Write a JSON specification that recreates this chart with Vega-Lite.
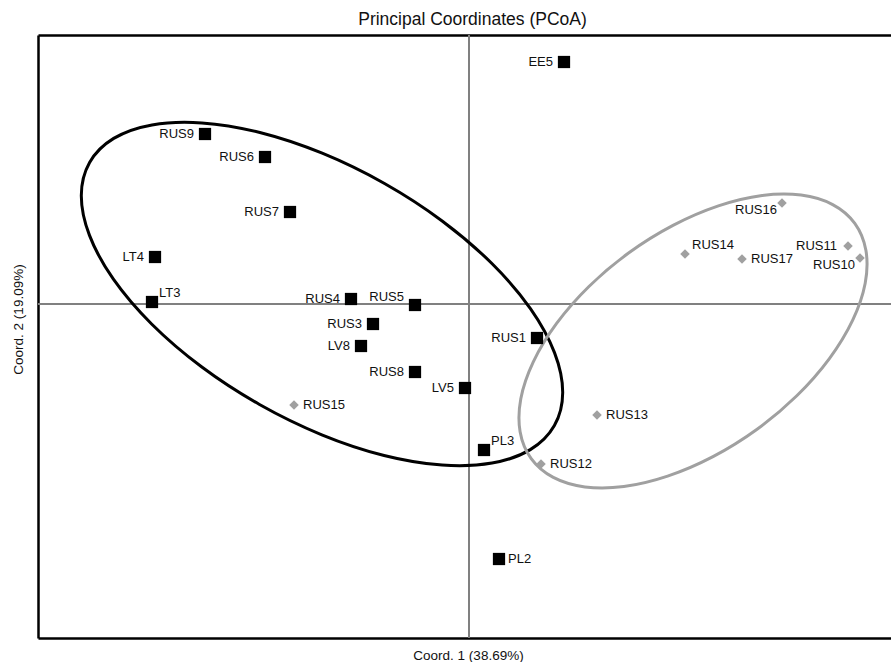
{
  "$schema": "https://vega.github.io/schema/vega-lite/v6.json",
  "width": 853,
  "height": 603,
  "padding": {"left": 11, "top": 10, "right": 0, "bottom": 0},
  "background": "white",
  "view": {"stroke": null},
  "config": {"font": "Liberation Sans"},
  "title": {"text": "Principal Coordinates (PCoA)", "font": "Liberation Sans", "fontSize": 17.5, "fontWeight": "normal", "color": "#111", "anchor": "middle", "offset": 6, "dx": 8},
  "datasets": {
    "pts": [
      {"name": "EE5", "group": "black", "x": 0.95, "y": 2.42},
      {"name": "RUS9", "group": "black", "x": -2.64, "y": 1.70},
      {"name": "RUS6", "group": "black", "x": -2.04, "y": 1.47},
      {"name": "RUS7", "group": "black", "x": -1.79, "y": 0.92},
      {"name": "LT4", "group": "black", "x": -3.14, "y": 0.47},
      {"name": "LT3", "group": "black", "x": -3.17, "y": 0.02},
      {"name": "RUS4", "group": "black", "x": -1.18, "y": 0.05},
      {"name": "RUS5", "group": "black", "x": -0.54, "y": -0.01},
      {"name": "RUS3", "group": "black", "x": -0.96, "y": -0.20},
      {"name": "LV8", "group": "black", "x": -1.08, "y": -0.42},
      {"name": "RUS1", "group": "black", "x": 0.68, "y": -0.34},
      {"name": "RUS8", "group": "black", "x": -0.54, "y": -0.68},
      {"name": "LV5", "group": "black", "x": -0.04, "y": -0.84},
      {"name": "PL3", "group": "black", "x": 0.15, "y": -1.46},
      {"name": "PL2", "group": "black", "x": 0.30, "y": -2.55},
      {"name": "RUS15", "group": "gray", "x": -1.75, "y": -1.01},
      {"name": "RUS16", "group": "gray", "x": 3.13, "y": 1.01},
      {"name": "RUS14", "group": "gray", "x": 2.16, "y": 0.50},
      {"name": "RUS17", "group": "gray", "x": 2.73, "y": 0.45},
      {"name": "RUS11", "group": "gray", "x": 3.79, "y": 0.58},
      {"name": "RUS10", "group": "gray", "x": 3.91, "y": 0.46},
      {"name": "RUS13", "group": "gray", "x": 1.28, "y": -1.11},
      {"name": "RUS12", "group": "gray", "x": 0.72, "y": -1.60}
    ],
    "ell": [
      {"group": "black", "t": 0, "x": 0.854, "y": -1.215},
      {"group": "black", "t": 15, "x": 0.937, "y": -0.884},
      {"group": "black", "t": 30, "x": 0.855, "y": -0.486},
      {"group": "black", "t": 45, "x": 0.616, "y": -0.048},
      {"group": "black", "t": 60, "x": 0.234, "y": 0.400},
      {"group": "black", "t": 75, "x": -0.265, "y": 0.828},
      {"group": "black", "t": 90, "x": -0.845, "y": 1.205},
      {"group": "black", "t": 105, "x": -1.468, "y": 1.508},
      {"group": "black", "t": 120, "x": -2.091, "y": 1.715},
      {"group": "black", "t": 135, "x": -2.671, "y": 1.811},
      {"group": "black", "t": 150, "x": -3.170, "y": 1.791},
      {"group": "black", "t": 165, "x": -3.553, "y": 1.656},
      {"group": "black", "t": 180, "x": -3.794, "y": 1.415},
      {"group": "black", "t": 195, "x": -3.877, "y": 1.084},
      {"group": "black", "t": 210, "x": -3.795, "y": 0.686},
      {"group": "black", "t": 225, "x": -3.556, "y": 0.248},
      {"group": "black", "t": 240, "x": -3.174, "y": -0.200},
      {"group": "black", "t": 255, "x": -2.675, "y": -0.628},
      {"group": "black", "t": 270, "x": -2.095, "y": -1.005},
      {"group": "black", "t": 285, "x": -1.472, "y": -1.308},
      {"group": "black", "t": 300, "x": -0.849, "y": -1.515},
      {"group": "black", "t": 315, "x": -0.269, "y": -1.611},
      {"group": "black", "t": 330, "x": 0.230, "y": -1.591},
      {"group": "black", "t": 345, "x": 0.613, "y": -1.456},
      {"group": "gray", "t": 0, "x": 3.858, "y": 0.806},
      {"group": "gray", "t": 15, "x": 3.637, "y": 0.994},
      {"group": "gray", "t": 30, "x": 3.321, "y": 1.089},
      {"group": "gray", "t": 45, "x": 2.931, "y": 1.085},
      {"group": "gray", "t": 60, "x": 2.494, "y": 0.981},
      {"group": "gray", "t": 75, "x": 2.040, "y": 0.786},
      {"group": "gray", "t": 90, "x": 1.599, "y": 0.512},
      {"group": "gray", "t": 105, "x": 1.202, "y": 0.178},
      {"group": "gray", "t": 120, "x": 0.876, "y": -0.194},
      {"group": "gray", "t": 135, "x": 0.643, "y": -0.578},
      {"group": "gray", "t": 150, "x": 0.518, "y": -0.947},
      {"group": "gray", "t": 165, "x": 0.511, "y": -1.277},
      {"group": "gray", "t": 180, "x": 0.622, "y": -1.546},
      {"group": "gray", "t": 195, "x": 0.843, "y": -1.734},
      {"group": "gray", "t": 210, "x": 1.159, "y": -1.829},
      {"group": "gray", "t": 225, "x": 1.549, "y": -1.825},
      {"group": "gray", "t": 240, "x": 1.986, "y": -1.721},
      {"group": "gray", "t": 255, "x": 2.440, "y": -1.526},
      {"group": "gray", "t": 270, "x": 2.881, "y": -1.252},
      {"group": "gray", "t": 285, "x": 3.278, "y": -0.918},
      {"group": "gray", "t": 300, "x": 3.604, "y": -0.546},
      {"group": "gray", "t": 315, "x": 3.837, "y": -0.162},
      {"group": "gray", "t": 330, "x": 3.962, "y": 0.207},
      {"group": "gray", "t": 345, "x": 3.969, "y": 0.537}
    ],
    "zeros": [{"v": 0}]
  },
  "resolve": {"axis": {"x": "independent"}},
  "layer": [
    {
      "data": {"name": "zeros"},
      "mark": {"type": "rule", "color": "#808080", "strokeWidth": 2},
      "encoding": {
        "x": {"field": "v", "type": "quantitative",
              "scale": {"domain": [-4.31, 4.22], "nice": false, "zero": false},
              "axis": {"orient": "top", "title": null, "labels": false, "ticks": false, "grid": false, "domain": true, "domainColor": "#000000", "domainWidth": 2.5}}
      }
    },
    {
      "data": {"name": "zeros"},
      "mark": {"type": "rule", "color": "#808080", "strokeWidth": 2},
      "encoding": {
        "y": {"field": "v", "type": "quantitative"}
      }
    },
    {
      "data": {"name": "ell"},
      "mark": {"type": "line", "interpolate": "cardinal-closed", "strokeWidth": 3},
      "encoding": {
        "x": {"field": "x", "type": "quantitative", "axis": null},
        "y": {"field": "y", "type": "quantitative"},
        "detail": {"field": "group"},
        "order": {"field": "t", "type": "quantitative"},
        "color": {"field": "group", "type": "nominal", "scale": {"domain": ["black", "gray"], "range": ["#000000", "#a0a0a0"]}, "legend": null}
      }
    },
    {
      "data": {"name": "pts"},
      "mark": {"type": "point", "filled": true, "opacity": 1},
      "encoding": {
        "x": {"field": "x", "type": "quantitative", "title": "Coord. 1 (38.69%)",
              "axis": {"orient": "bottom", "labels": false, "ticks": false, "grid": false, "domain": true, "domainColor": "#000000", "domainWidth": 2.5, "titleFont": "Liberation Sans", "titleFontSize": 13.5, "titleFontWeight": "normal", "titleColor": "#111", "titlePadding": 10, "titleX": 430}},
        "y": {"field": "y", "type": "quantitative", "title": "Coord. 2 (19.09%)",
              "scale": {"domain": [-3.34, 2.69], "nice": false, "zero": false},
              "axis": {"labels": false, "ticks": false, "grid": false, "domain": true, "domainColor": "#000000", "domainWidth": 2.5, "titleFont": "Liberation Sans", "titleFontSize": 13.5, "titleFontWeight": "normal", "titleColor": "#111", "titleBaseline": "middle", "titleX": -20, "titleY": 284}},
        "shape": {"field": "group", "type": "nominal", "scale": {"domain": ["black", "gray"], "range": ["square", "diamond"]}, "legend": null},
        "color": {"field": "group", "type": "nominal", "legend": null},
        "size": {"condition": {"test": "datum.group === 'gray'", "value": 90}, "value": 150}
      }
    },
    {
      "data": {"name": "pts"},
      "transform": [{"filter": {"field": "name", "oneOf": ["EE5", "RUS9", "RUS6", "RUS7", "LT4", "RUS3", "LV8", "RUS8", "LV5", "RUS1", "RUS11", "RUS4"]}}],
      "mark": {"type": "text", "align": "right", "baseline": "middle", "dx": -11, "fontSize": 13, "font": "Liberation Sans", "color": "#111"},
      "encoding": {"x": {"field": "x", "type": "quantitative", "axis": null}, "y": {"field": "y", "type": "quantitative"}, "text": {"field": "name"}}
    },
    {
      "data": {"name": "pts"},
      "transform": [{"filter": {"field": "name", "oneOf": ["RUS5"]}}],
      "mark": {"type": "text", "align": "right", "baseline": "middle", "dx": -11, "dy": -8, "fontSize": 13, "font": "Liberation Sans", "color": "#111"},
      "encoding": {"x": {"field": "x", "type": "quantitative", "axis": null}, "y": {"field": "y", "type": "quantitative"}, "text": {"field": "name"}}
    },
    {
      "data": {"name": "pts"},
      "transform": [{"filter": {"field": "name", "oneOf": ["RUS15", "RUS13", "RUS12", "PL2", "RUS17"]}}],
      "mark": {"type": "text", "align": "left", "baseline": "middle", "dx": 9, "fontSize": 13, "font": "Liberation Sans", "color": "#111"},
      "encoding": {"x": {"field": "x", "type": "quantitative", "axis": null}, "y": {"field": "y", "type": "quantitative"}, "text": {"field": "name"}}
    },
    {
      "data": {"name": "pts"},
      "transform": [{"filter": {"field": "name", "oneOf": ["LT3", "PL3", "RUS14"]}}],
      "mark": {"type": "text", "align": "left", "baseline": "middle", "dx": 7, "dy": -9, "fontSize": 13, "font": "Liberation Sans", "color": "#111"},
      "encoding": {"x": {"field": "x", "type": "quantitative", "axis": null}, "y": {"field": "y", "type": "quantitative"}, "text": {"field": "name"}}
    },
    {
      "data": {"name": "pts"},
      "transform": [{"filter": {"field": "name", "oneOf": ["RUS16", "RUS10"]}}],
      "mark": {"type": "text", "align": "right", "baseline": "middle", "dx": -5, "dy": 7, "fontSize": 13, "font": "Liberation Sans", "color": "#111"},
      "encoding": {"x": {"field": "x", "type": "quantitative", "axis": null}, "y": {"field": "y", "type": "quantitative"}, "text": {"field": "name"}}
    }
  ]
}
